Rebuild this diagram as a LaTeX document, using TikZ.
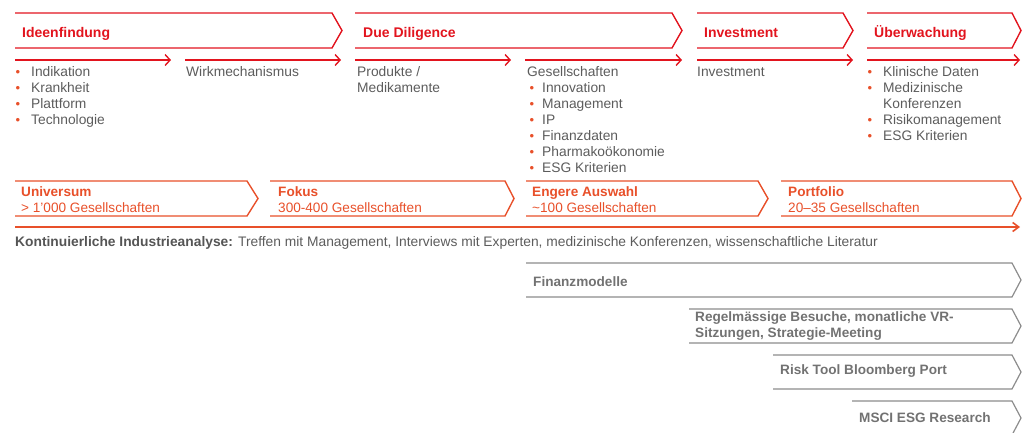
\documentclass[tikz,border=0pt]{standalone}
\usepackage{fontspec}
\setmainfont{Liberation Sans}
\usetikzlibrary{arrows.meta}
\definecolor{topred}{HTML}{E2141E}
\definecolor{botred}{HTML}{E8502A}
\definecolor{linegray}{HTML}{8C8C8C}
\definecolor{txtgray}{HTML}{5C5C5C}
\definecolor{boldgray}{HTML}{727272}
\newcommand\chevshape[5]{% x1, corner, tip, ytop, ybot
  (#1,#4) -- (#2,#4) -- (#3,{(#4+#5)/2}) -- (#2,#5) -- (#1,#5)}
\tikzset{
  redline/.style={draw=topred, line width=1.4pt},
  orangeline/.style={draw=botred, line width=1.4pt},
  grayline/.style={draw=linegray, line width=1.2pt},
  smallarrow/.style={redline, -{Straight Barb[length=5pt,width=11pt,line width=1.4pt]}},
  longarrow/.style={draw=botred, line width=2pt, -{Straight Barb[length=6pt,width=9pt,line width=1.6pt]}},
  toptitle/.style={anchor=base west, inner sep=0pt, text=topred, font=\fontsize{14}{16}\selectfont\bfseries},
  bottitle/.style={anchor=base west, inner sep=0pt, text=botred, font=\fontsize{13.6}{16}\selectfont\bfseries},
  botsub/.style={anchor=base west, inner sep=0pt, text=botred, font=\fontsize{13.6}{16}\selectfont},
  bodytxt/.style={anchor=base west, inner sep=0pt, text=txtgray, font=\fontsize{13.8}{16}\selectfont},
  graytitle/.style={anchor=base west, inner sep=0pt, text=boldgray, font=\fontsize{13.6}{16}\selectfont\bfseries},
  bul/.style={anchor=base, inner sep=0pt, text=botred, font=\fontsize{13}{14}\selectfont},
}
\begin{document}
\begin{tikzpicture}[x=1pt,y=-1pt]
\useasboundingbox (0,0) rectangle (1022,432);
\clip (0,0) rectangle (1022,432);
% top chevrons
\draw[redline] \chevshape{15}{332}{342}{13}{48};
\draw[redline] \chevshape{355}{672}{682}{13}{48};
\draw[redline] \chevshape{697}{843}{853}{13}{48};
\draw[redline] \chevshape{867}{1012}{1021}{13}{48};
\node[toptitle] (t1) at (22,37) {Ideenfindung};
\node[toptitle] (t2) at (363,37) {Due Diligence};
\node[toptitle] (t3) at (704,37) {Investment};
\node[toptitle] (t4) at (874,37) {Überwachung};
% small arrows
\coordinate (a1s) at (15,60);  \coordinate (a1e) at (171,60);
\coordinate (a2s) at (185,60); \coordinate (a2e) at (341,60);
\coordinate (a3s) at (355,60); \coordinate (a3e) at (511,60);
\coordinate (a4s) at (525,60); \coordinate (a4e) at (682,60);
\coordinate (a5s) at (697,60); \coordinate (a5e) at (853,60);
\coordinate (a6s) at (867,60); \coordinate (a6e) at (1020,60);
\foreach \k in {1,...,6} {\draw[smallarrow] (a\k s) -- (a\k e);}
% lists
\foreach \t [count=\i] in {Indikation, Krankheit, Plattform, Technologie} {
  \node[bul] (b1-\i) at (18,{76.5+16*(\i-1)}) {\textbullet};
  \node[bodytxt] (l1-\i) at (31,{76.5+16*(\i-1)}) {\t};
}
\node[bodytxt] (wirk) at (186,76.5) {Wirkmechanismus};
\node[bodytxt] (prod1) at (357,76.5) {Produkte /};
\node[bodytxt] (prod2) at (357,92.5) {Medikamente};
\node[bodytxt] (ges) at (527,76.5) {Gesellschaften};
\foreach \t [count=\i] in {Innovation, Management, IP, Finanzdaten, Pharmakoökonomie, ESG Kriterien} {
  \node[bul] (b2-\i) at (532,{92.5+16*(\i-1)}) {\textbullet};
  \node[bodytxt] (l2-\i) at (542,{92.5+16*(\i-1)}) {\t};
}
\node[bodytxt] (inv) at (697,76.5) {Investment};
\node[bul] (b3-1) at (870,76.5) {\textbullet};
\node[bodytxt] (l3-1) at (883,76.5) {Klinische Daten};
\node[bul] (b3-2) at (870,92.5) {\textbullet};
\node[bodytxt] (l3-2) at (883,92.5) {Medizinische};
\node[bodytxt] (l3-2b) at (883,108.5) {Konferenzen};
\node[bul] (b3-3) at (870,124.5) {\textbullet};
\node[bodytxt] (l3-3) at (883,124.5) {Risikomanagement};
\node[bul] (b3-4) at (870,140.5) {\textbullet};
\node[bodytxt] (l3-4) at (883,140.5) {ESG Kriterien};
% bottom chevrons
\draw[orangeline] \chevshape{15}{247}{258}{181}{216};
\draw[orangeline] \chevshape{270}{505}{514}{181}{216};
\draw[orangeline] \chevshape{526}{758}{768}{181}{216};
\draw[orangeline] \chevshape{781}{1012}{1021}{181}{216};
\node[bottitle] (u1) at (21,196.7) {Universum};
\node[botsub] (u2) at (21,212.5) {> 1’000 Gesellschaften};
\node[bottitle] (f1) at (278,196.7) {Fokus};
\node[botsub] (f2) at (278,212.5) {300-400 Gesellschaften};
\node[bottitle] (e1) at (532,196.7) {Engere Auswahl};
\node[botsub] (e2) at (532,212.5) {\textasciitilde 100 Gesellschaften};
\node[bottitle] (p1) at (788,196.7) {Portfolio};
\node[botsub] (p2) at (788,212.5) {20–35 Gesellschaften};
% long line
\coordinate (ls) at (15,227); \coordinate (le) at (1020,227);
\draw[longarrow] (ls) -- (le);
\node[bodytxt] (kont) at (15,246.7) {\textbf{\color{boldgray!75!black}Kontinuierliche Industrieanalyse:} Treffen mit Management, Interviews mit Experten, medizinische Konferenzen, wissenschaftliche Literatur};
% gray chevrons
\draw[grayline] \chevshape{526}{1012}{1021}{263}{297};
\draw[grayline] \chevshape{689}{1012}{1021}{309}{343};
\draw[grayline] \chevshape{773}{1012}{1021}{355}{389};
\draw[grayline] \chevshape{852}{1012}{1021}{401}{435};
\node[graytitle] (g1) at (533,286.7) {Finanzmodelle};
\node[graytitle] (g2a) at (695,321) {Regelmässige Besuche, monatliche VR-};
\node[graytitle] (g2b) at (695,337) {Sitzungen, Strategie-Meeting};
\node[graytitle] (g3) at (780,374) {Risk Tool Bloomberg Port};
\node[graytitle] (g4) at (859,422) {MSCI ESG Research};
\end{tikzpicture}
\end{document}
